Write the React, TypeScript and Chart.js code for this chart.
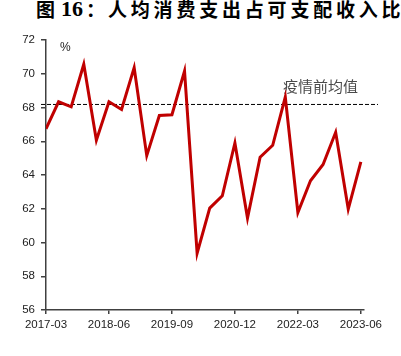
import React, { useEffect, useRef } from "react";
import { Chart, registerables } from "chart.js";

Chart.register(...registerables);

const quarters = [
  "2017-03", "2017-06", "2017-09", "2017-12",
  "2018-03", "2018-06", "2018-09", "2018-12",
  "2019-03", "2019-06", "2019-09", "2019-12",
  "2020-03", "2020-06", "2020-09", "2020-12",
  "2021-03", "2021-06", "2021-09", "2021-12",
  "2022-03", "2022-06", "2022-09", "2022-12",
  "2023-03", "2023-06",
];
const ratio = [
  66.74, 68.34, 68.04, 70.56,
  66.06, 68.34, 67.88, 70.36,
  65.15, 67.53, 67.57, 70.16,
  59.37, 62.04, 62.77, 65.9,
  61.45, 65.05, 65.76, 68.62,
  61.78, 63.66, 64.62, 66.53,
  61.98, 64.78,
];
const shownTicks = [0, 5, 10, 15, 20, 25];
const preCovidAvg = 68.18;
const avgLabel = "疫情前均值";
const unitLabel = "%";
const titlePrefix = "图";
const titleNumber = "16";
const titleColon = "：";
const titleText = "人均消费支出占可支配收入比";

const refLinePlugin = {
  id: "refLine",
  beforeDatasetsDraw(chart: any) {
    const { ctx, chartArea, scales } = chart;
    const y = scales.y.getPixelForValue(preCovidAvg);
    ctx.save();
    ctx.strokeStyle = "#000000";
    ctx.lineWidth = 1;
    ctx.setLineDash([4, 2]);
    ctx.beginPath();
    ctx.moveTo(chartArea.left - 5, y);
    ctx.lineTo(chartArea.right + 14, y);
    ctx.stroke();
    ctx.setLineDash([]);
    ctx.fillStyle = "#4a4a4a";
    ctx.font = '15px "Noto Sans CJK SC"';
    ctx.textAlign = "left";
    ctx.textBaseline = "middle";
    ctx.fillText(avgLabel, chartArea.right - 81, y - 18);
    ctx.fillStyle = "#222222";
    ctx.font = '12px "Liberation Sans"';
    ctx.fillText(unitLabel, chartArea.left + 14, chartArea.top + 8);
    ctx.restore();
  },
};

const titleBase: React.CSSProperties = {
  position: "absolute",
  top: -1,
  whiteSpace: "nowrap",
  fontWeight: "bold",
  lineHeight: "20px",
  color: "#000",
};

export default function App() {
  const ref = useRef<HTMLCanvasElement>(null);
  useEffect(() => {
    document.body.style.margin = "0";
    const chart = new Chart(ref.current!, {
      type: "line",
      data: {
        datasets: [
          {
            data: ratio.map((v, i) => ({ x: i, y: v })),
            borderColor: "#C00000",
            borderWidth: 3,
            pointRadius: 0,
            tension: 0,
            fill: false,
          },
        ],
      },
      options: {
        animation: false,
        responsive: false,
        layout: { padding: { top: 40, right: 37, left: 0, bottom: 0 } },
        plugins: { legend: { display: false }, tooltip: { enabled: false } },
        scales: {
          x: {
            type: "linear",
            min: 0,
            max: 25.25,
            afterBuildTicks: (s: any) => {
              s.ticks = shownTicks.map((v) => ({ value: v }));
            },
            afterFit: (s: any) => {
              s.height = 46;
            },
            ticks: {
              autoSkip: false,
              maxRotation: 0,
              padding: 4,
              color: "#222222",
              font: { family: "Liberation Sans", size: 11.5 },
              callback: (v: any) => quarters[v as number],
            },
            grid: { display: true, drawOnChartArea: false, drawTicks: true, tickLength: 4, color: "#404040", lineWidth: 1.5 },
            border: { display: true, color: "#404040", width: 1.5 },
          },
          y: {
            min: 56,
            max: 72,
            afterFit: (s: any) => {
              s.width = 46;
            },
            ticks: {
              stepSize: 2,
              padding: 6,
              color: "#222222",
              font: { family: "Liberation Sans", size: 11.5 },
            },
            grid: { display: true, drawOnChartArea: false, drawTicks: true, tickLength: 5, color: "#404040", lineWidth: 1.5 },
            border: { display: true, color: "#404040", width: 1.5 },
          },
        },
      },
      plugins: [refLinePlugin],
    });
    return () => chart.destroy();
  }, []);
  return (
    <div style={{ position: "relative", width: 401, height: 356, overflow: "hidden", background: "#fff" }}>
      <span style={{ ...titleBase, left: 36, fontSize: 19, fontFamily: '"Noto Sans CJK SC", sans-serif' }}>{titlePrefix}</span>
      <span style={{ ...titleBase, left: 61, fontSize: 22, fontFamily: '"Liberation Serif", serif' }}>{titleNumber}</span>
      <span style={{ ...titleBase, left: 86, fontSize: 19, fontFamily: '"Noto Sans CJK SC", sans-serif' }}>{titleColon}</span>
      <span style={{ ...titleBase, left: 108, fontSize: 19, letterSpacing: 3.8, fontFamily: '"Noto Sans CJK SC", sans-serif' }}>{titleText}</span>
      <canvas ref={ref} width={401} height={356} style={{ position: "absolute", left: 0, top: 0 }} />
    </div>
  );
}
